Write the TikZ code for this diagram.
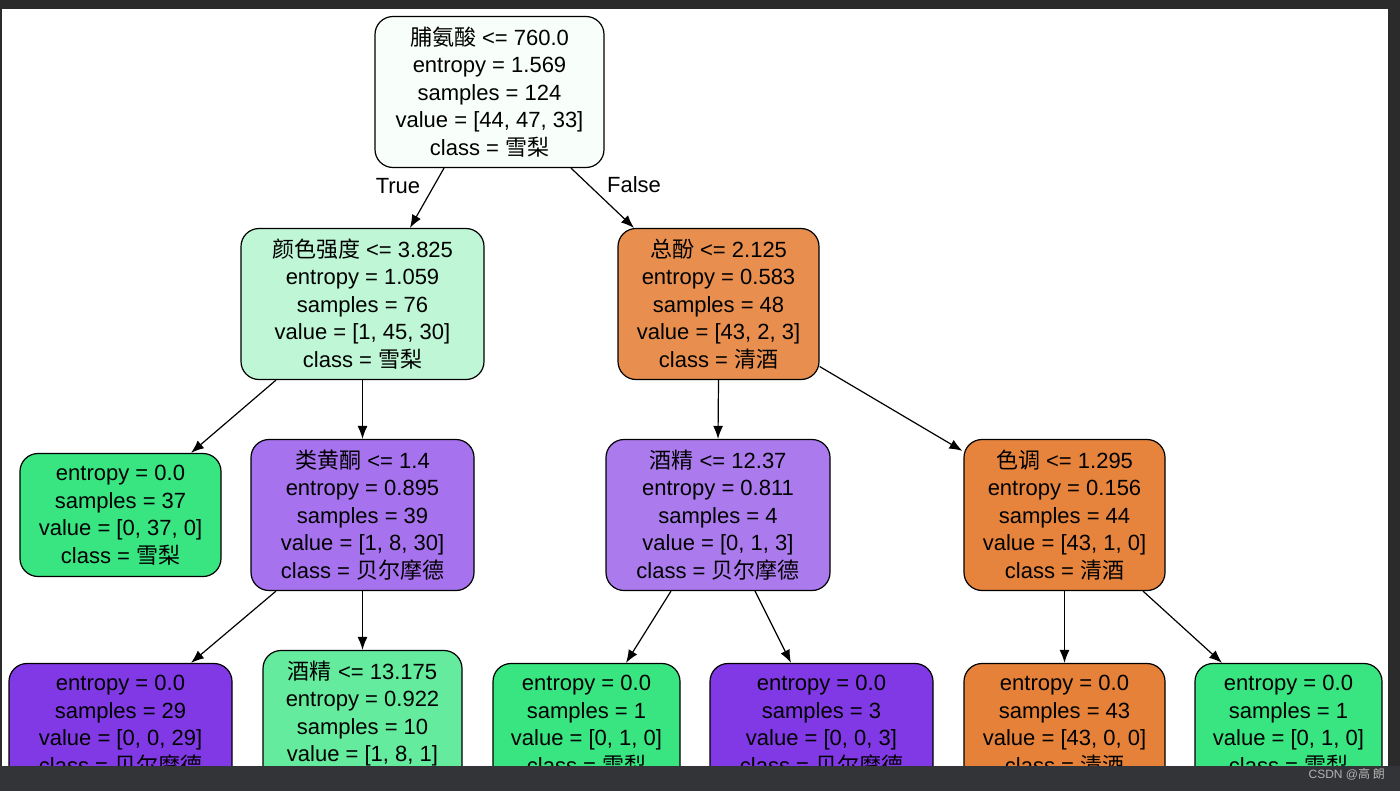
\documentclass[tikz,border=0pt]{standalone}
\usepackage{fontspec}
\setmainfont{Liberation Sans}
\newfontfamily\cjk{Noto Sans CJK SC}
\usetikzlibrary{arrows.meta}
\newcommand\zh[1]{{\cjk #1}}
\newcommand\fs{\fontsize{22}{27.5}\selectfont}
\definecolor{cRoot}{HTML}{F8FEFA}
\definecolor{cA}{HTML}{BEF6D6}
\definecolor{cB}{HTML}{E88F4F}
\definecolor{cG}{HTML}{39E581}
\definecolor{cC}{HTML}{A672ED}
\definecolor{cD}{HTML}{AB7BEE}
\definecolor{cE}{HTML}{E6843E}
\definecolor{cP}{HTML}{8139E5}
\definecolor{cF}{HTML}{65EB9D}
\definecolor{cO}{HTML}{E58139}
\definecolor{frameTop}{HTML}{2B2B2B}
\definecolor{frameBot}{HTML}{333437}
\definecolor{wmark}{HTML}{B4B4B4}
\tikzset{
  tn/.style={draw=black, line width=1.2pt, rounded corners=18pt, align=center,
    inner sep=0pt, font=\fs, text=black},
  edge/.style={line width=1.2pt, -{Latex[length=13pt,width=10pt]}},
  elabel/.style={font=\fs, inner sep=0pt}
}
\begin{document}
\begin{tikzpicture}[x=1pt,y=-1pt]
\useasboundingbox (0,0) rectangle (1400,790);
\clip (0,0) rectangle (1400,790);
\fill[white] (0,0) rectangle (1400,790);

% nodes
\node[tn, fill=cRoot, minimum width=229pt, minimum height=151pt] (root) at (489.5,92)
  {\zh{脯氨酸} <= 760.0\\entropy = 1.569\\samples = 124\\value = [44, 47, 33]\\class = \zh{雪梨}};
\node[tn, fill=cA, minimum width=243pt, minimum height=151pt] (n1) at (362.5,304)
  {\zh{颜色强度} <= 3.825\\entropy = 1.059\\samples = 76\\value = [1, 45, 30]\\class = \zh{雪梨}};
\node[tn, fill=cB, minimum width=201pt, minimum height=151pt] (n2) at (718.5,304)
  {\zh{总酚} <= 2.125\\entropy = 0.583\\samples = 48\\value = [43, 2, 3]\\class = \zh{清酒}};
\node[tn, fill=cG, minimum width=201pt, minimum height=123pt] (l37) at (120.5,515)
  {entropy = 0.0\\samples = 37\\value = [0, 37, 0]\\class = \zh{雪梨}};
\node[tn, fill=cC, minimum width=223pt, minimum height=151pt] (n3) at (362.5,515)
  {\zh{类黄酮} <= 1.4\\entropy = 0.895\\samples = 39\\value = [1, 8, 30]\\class = \zh{贝尔摩德}};
\node[tn, fill=cD, minimum width=224pt, minimum height=151pt] (n4) at (718,515)
  {\zh{酒精} <= 12.37\\entropy = 0.811\\samples = 4\\value = [0, 1, 3]\\class = \zh{贝尔摩德}};
\node[tn, fill=cE, minimum width=201pt, minimum height=151pt] (n5) at (1064.5,515)
  {\zh{色调} <= 1.295\\entropy = 0.156\\samples = 44\\value = [43, 1, 0]\\class = \zh{清酒}};
\node[tn, fill=cP, minimum width=223pt, minimum height=123pt] (l29) at (120.5,725)
  {entropy = 0.0\\samples = 29\\value = [0, 0, 29]\\class = \zh{贝尔摩德}};
\node[tn, fill=cF, minimum width=199pt, minimum height=151pt] (n6) at (362.5,726)
  {\zh{酒精} <= 13.175\\entropy = 0.922\\samples = 10\\value = [1, 8, 1]\\class = \zh{雪梨}};
\node[tn, fill=cG, minimum width=187pt, minimum height=123pt] (lg1) at (586.5,725)
  {entropy = 0.0\\samples = 1\\value = [0, 1, 0]\\class = \zh{雪梨}};
\node[tn, fill=cP, minimum width=223pt, minimum height=123pt] (lp3) at (821.5,725)
  {entropy = 0.0\\samples = 3\\value = [0, 0, 3]\\class = \zh{贝尔摩德}};
\node[tn, fill=cO, minimum width=201pt, minimum height=123pt] (lo43) at (1064.5,725)
  {entropy = 0.0\\samples = 43\\value = [43, 0, 0]\\class = \zh{清酒}};
\node[tn, fill=cG, minimum width=187pt, minimum height=123pt] (lg1r) at (1288.5,725)
  {entropy = 0.0\\samples = 1\\value = [0, 1, 0]\\class = \zh{雪梨}};

% edge labels
\node[elabel] (tl) at (398,186) {True};
\node[elabel] (fl) at (634,185) {False};

% edges
\draw[edge] ([xshift=-45.5pt]root.south) -- ([xshift=47.5pt]n1.north);
\draw[edge] ([xshift=81.5pt]root.south) -- ([xshift=-84.5pt]n2.north);
\draw[edge] ([xshift=-86.5pt]n1.south) -- ([xshift=70.5pt]l37.north);
\draw[edge] (n1.south) -- (n3.north);
\draw[edge] (n2.south) -- (n4.north);
\draw[edge] ([yshift=-62.5pt]n2.east) -- ([xshift=-1pt,yshift=-12pt]n5.north west);
\draw[edge] ([xshift=-86.5pt]n3.south) -- ([xshift=70.5pt]l29.north);
\draw[edge] (n3.south) -- (n6.north);
\draw[edge] ([xshift=-47pt]n4.south) -- ([xshift=39.5pt]lg1.north);
\draw[edge] ([xshift=37pt]n4.south) -- ([xshift=-30.5pt]lp3.north);
\draw[edge] (n5.south) -- (lo43.north);
\draw[edge] ([xshift=78.5pt]n5.south) -- ([xshift=-66.5pt]lg1r.north);

% frame
\fill[frameTop] (-5,-5) rectangle (1405,9);
\fill[frameTop] (1388,-5) rectangle (1405,766);
\fill[frameTop] (-5,-5) rectangle (2,766);
\fill[frameBot] (-5,766) rectangle (1405,800);
\node[anchor=east, text=wmark, inner sep=0pt, font=\fontsize{12}{14}\selectfont] (wm) at (1385,774) {CSDN @\zh{高 朗}};
\end{tikzpicture}
\end{document}
